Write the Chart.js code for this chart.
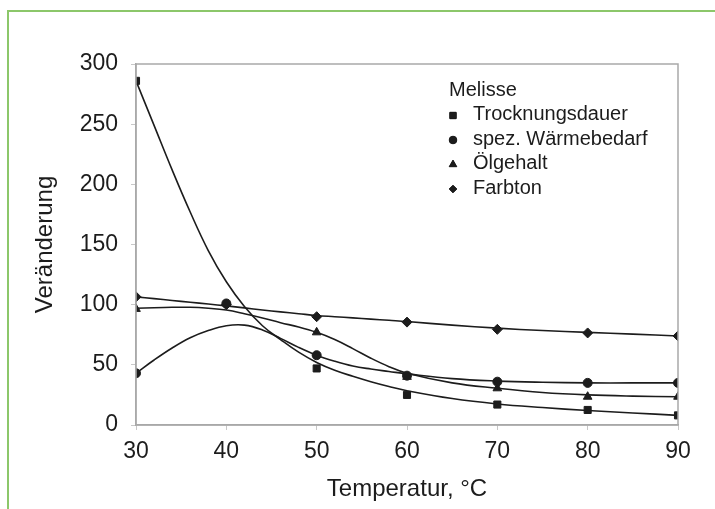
<!DOCTYPE html>
<html>
<head>
<meta charset="utf-8">
<script src="https://cdn.jsdelivr.net/npm/chart.js@4.4.0/dist/chart.umd.min.js"></script>
<style>
  html, body { margin: 0; padding: 0; background: #fff; }
  #wrap { position: relative; width: 715px; height: 509px; overflow: hidden; background: #fff; }
  #frame { position: absolute; left: 7px; top: 10px; right: -5px; bottom: -5px;
           border-top: 2px solid #8cc76a; border-left: 2px solid #8cc76a; }
  canvas { position: absolute; left: 0; top: 0; }
</style>
</head>
<body>
<div id="wrap">
  <div id="frame"></div>
  <canvas id="c" width="715" height="509"></canvas>
</div>
<script>
// ---- data ----
const legendTitle = "Melisse";
const seriesNames = ["Trocknungsdauer", "spez. Wärmebedarf", "Ölgehalt", "Farbton"];
const xTitle = "Temperatur, °C";
const yTitle = "Veränderung";

// measured points
const trockX = [30, 50, 60, 70, 80, 90];
const trockY = [286, 47, 25, 17, 12.5, 8];
const waermeX = [30, 40, 50, 60, 70, 80, 90];
const waermeY = [43, 101, 58, 41, 36, 35, 35];
const oelX = [30, 50, 60, 70, 80, 90];
const oelY = [96.5, 77, 40, 30.5, 23.5, 23.5];
const farbX = [30, 40, 50, 60, 70, 80, 90];
const farbY = [106.5, 100, 90, 85.5, 79.5, 76.5, 74];

// trend curves
const curveX = [30, 32, 34, 36, 38, 40, 42, 44, 46, 48, 50, 52, 54, 56, 58, 60, 65, 70, 75, 80, 85, 90];
const trockCurve  = [286, 249, 212, 177, 145, 119, 98.5, 82.5, 71, 60.5, 52, 45.5, 40.5, 36, 32, 28.5, 22, 17.5, 14.5, 12, 10, 8];
const waermeCurve = [43, 54, 64, 72.5, 78.5, 82.5, 83, 79, 72, 64.5, 58, 53, 49, 46.5, 44.5, 42.5, 38.5, 36.5, 35.5, 35, 35, 35];
const oelCurve    = [97, 97.5, 97.8, 97.8, 97, 95.5, 92.5, 89, 85, 81.5, 77, 71, 63.5, 55.5, 48.5, 43, 35, 30.5, 27, 25, 24, 23.5];
const farbCurve   = [106.5, 105, 103.5, 102, 100.5, 99, 97.3, 95.6, 94, 92.5, 91, 90, 89, 88, 87, 86, 83, 80.5, 78.5, 77, 75.5, 74];

const xMin = 30, xMax = 90, xStep = 10;
const yMin = 0, yMax = 300, yStep = 50;

// ---- chart ----
const FONT = "'Liberation Sans', Arial, sans-serif";
const INK = '#1c1c1c';
const pts = (xs, ys) => xs.map((x, i) => ({ x: x, y: ys[i] }));

const styles = [
  { pointStyle: 'rect', r: 5 },
  { pointStyle: 'circle', r: 4.5 },
  { pointStyle: 'triangle', r: 5 },
  { pointStyle: 'rectRot', r: 5 }
];
const markerSets = [pts(trockX, trockY), pts(waermeX, waermeY), pts(oelX, oelY), pts(farbX, farbY)];
const curveSets = [pts(curveX, trockCurve), pts(curveX, waermeCurve), pts(curveX, oelCurve), pts(curveX, farbCurve)];

const datasets = [];
curveSets.forEach((d, i) => {
  datasets.push({
    type: 'line', label: seriesNames[i] + ' (Trend)', data: d,
    borderColor: INK, borderWidth: 1.6, pointRadius: 0, fill: false,
    tension: 0.4, order: 10
  });
});
markerSets.forEach((d, i) => {
  datasets.push({
    type: 'scatter', label: seriesNames[i], data: d, showLine: false,
    pointStyle: styles[i].pointStyle, pointRadius: styles[i].r,
    backgroundColor: INK, borderColor: INK, borderWidth: 1, order: i
  });
});

const framePlugin = {
  id: 'frame',
  afterDatasetsDraw(chart) {
    const { ctx, chartArea: a } = chart;
    ctx.save();
    ctx.strokeStyle = '#a9a9a9';
    ctx.lineWidth = 1.5;
    ctx.strokeRect(a.left, a.top, a.right - a.left, a.bottom - a.top);
    ctx.restore();
  }
};

const legendPlugin = {
  id: 'customLegend',
  afterDraw(chart) {
    const { ctx } = chart;
    ctx.save();
    ctx.fillStyle = INK;
    ctx.font = '20px ' + FONT;
    ctx.textBaseline = 'middle';
    ctx.textAlign = 'left';
    const x0 = 449, y0 = 90, dy = 24.5;
    ctx.fillText(legendTitle, x0, y0);
    const legendStyles = ['rect', 'circle', 'triangle', 'rectRot'];
    const legendR = [4.5, 3.8, 4.4, 3.8];
    seriesNames.forEach((name, i) => {
      const y = y0 + dy * (i + 1);
      Chart.helpers.drawPoint(ctx, { pointStyle: legendStyles[i], radius: legendR[i], borderWidth: 1 }, 453, y + 1);
      ctx.fillStyle = INK;
      ctx.strokeStyle = INK;
      ctx.fill();
      ctx.fillText(name, 473, y);
    });
    ctx.restore();
  }
};

new Chart(document.getElementById('c'), {
  data: { datasets: datasets },
  options: {
    responsive: false,
    animation: false,
    devicePixelRatio: 1,
    layout: { padding: { left: 0, top: 64, right: 37, bottom: 0 } },
    plugins: { legend: { display: false }, tooltip: { enabled: false } },
    scales: {
      x: {
        type: 'linear', min: xMin, max: xMax,
        afterFit(s) { s.height = 84; },
        border: { display: true, color: '#a9a9a9', width: 1.5 },
        grid: { drawOnChartArea: false, drawTicks: true, tickLength: 5, color: '#c8c8c8' },
        ticks: { stepSize: xStep, color: INK, font: { family: FONT, size: 23 }, padding: 8, maxRotation: 0 },
        title: { display: true, text: xTitle, color: INK, font: { family: FONT, size: 24 }, padding: { top: 0, bottom: 5 } }
      },
      y: {
        type: 'linear', min: yMin, max: yMax,
        afterFit(s) { s.width = 136; },
        border: { display: true, color: '#a9a9a9', width: 1.5 },
        grid: { drawOnChartArea: false, drawTicks: true, tickLength: 5, color: '#c8c8c8' },
        ticks: { stepSize: yStep, color: INK, font: { family: FONT, size: 23 }, padding: 13 },
        title: { display: true, text: yTitle, color: INK, font: { family: FONT, size: 24 }, padding: { top: 31, bottom: 0 } }
      }
    }
  },
  plugins: [framePlugin, legendPlugin]
});
</script>
</body>
</html>
